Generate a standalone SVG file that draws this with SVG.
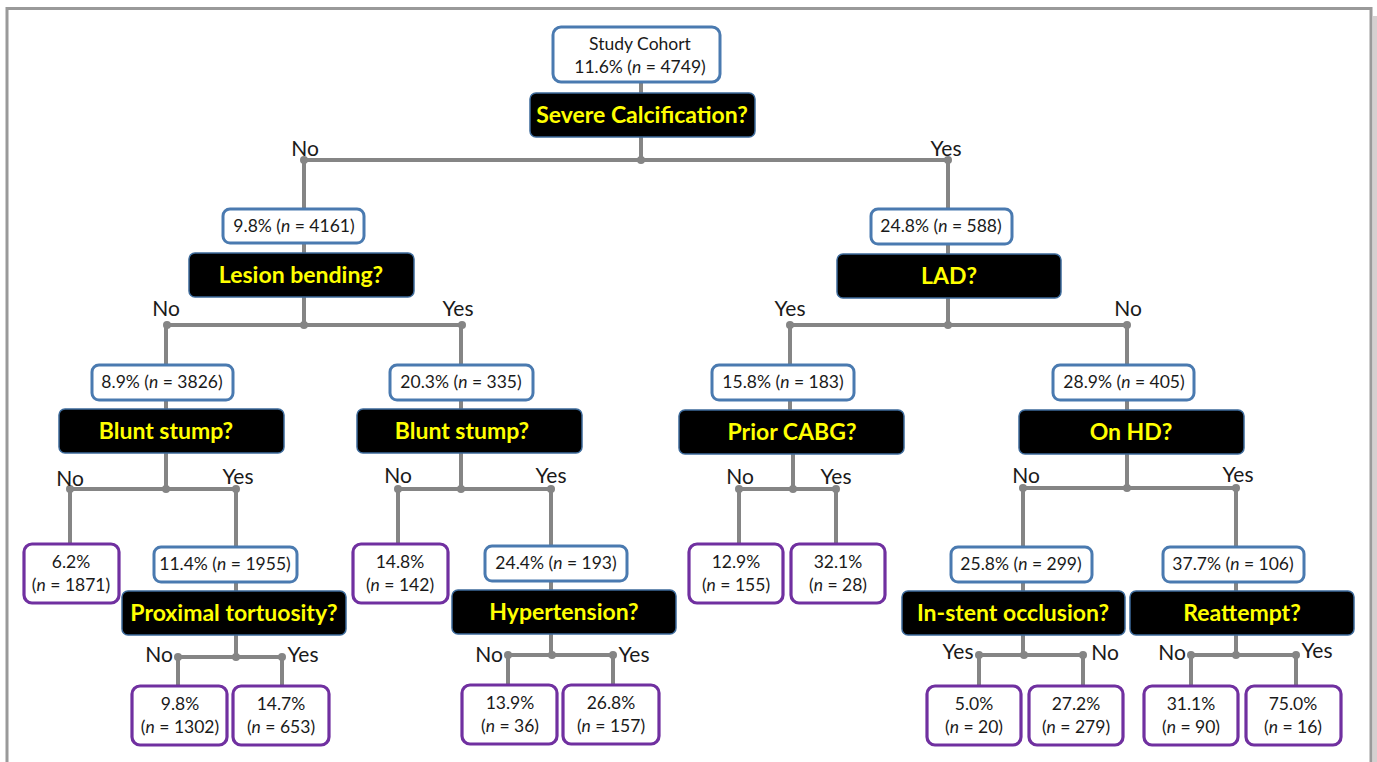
<svg xmlns="http://www.w3.org/2000/svg" width="1377" height="762" viewBox="0 0 1377 762">
<style>
.c{stroke:#858585;stroke-width:4;fill:none}
.d{fill:#858585}
.s{fill:#fff;stroke:#4a7ab0;stroke-width:3}
.q{fill:#000;stroke:#3d6a9a;stroke-width:1.5}
.l{fill:#fff;stroke:#7030a0;stroke-width:3.2}
text{font-family:Lato,"Open Sans","Liberation Sans",sans-serif;text-anchor:middle;fill:#1a1a1a}
.t{font-size:17.5px}
.b{font-size:23px;font-weight:bold;fill:#ffff00}
.y{font-size:21px}
</style>
<rect x="0" y="0" width="1377" height="762" fill="#fff"/>
<rect x="1373" y="16" width="4" height="746" fill="#d5d0d0"/>
<rect x="7" y="8.5" width="1364" height="800" fill="#fff" stroke="#9a9a9a" stroke-width="3"/>
<g id="connectors">
<path class="c" d="M641 82V160M304 160H948M304 160V325M948 160V325M167 325H462M790 325H1127M166 325V489M461 325V489M790 325V410M793 454V489M1127 325V488M70 489H236M398 489H551M739 489H836M1023 488H1236M70 489V544M236 489V657M398 489V544M551 489V655M739 489V544M836 489V544M1023 488V655M1236 488V655M178 657H282M508 655H613M979 655H1083M1191 655H1296M178 657V686M282 657V686M508 655V685M613 655V685M979 655V686M1083 655V686M1191 655V686M1296 655V686"/>
<g class="d">
<circle cx="641" cy="160" r="4"/><circle cx="304" cy="160" r="4"/><circle cx="948" cy="160" r="4"/>
<circle cx="167" cy="325" r="4"/><circle cx="304" cy="325" r="4"/><circle cx="462" cy="325" r="4"/>
<circle cx="790" cy="325" r="4"/><circle cx="948" cy="325" r="4"/><circle cx="1127" cy="325" r="4"/>
<circle cx="70" cy="489" r="4"/><circle cx="166" cy="489" r="4"/><circle cx="236" cy="489" r="4"/>
<circle cx="398" cy="489" r="4"/><circle cx="461" cy="489" r="4"/><circle cx="551" cy="489" r="4"/>
<circle cx="739" cy="489" r="4"/><circle cx="793" cy="489" r="4"/><circle cx="836" cy="489" r="4"/>
<circle cx="1023" cy="488" r="4"/><circle cx="1127" cy="488" r="4"/><circle cx="1236" cy="488" r="4"/>
<circle cx="178" cy="657" r="4"/><circle cx="236" cy="657" r="4"/><circle cx="282" cy="657" r="4"/>
<circle cx="508" cy="655" r="4"/><circle cx="552" cy="655" r="4"/><circle cx="613" cy="655" r="4"/>
<circle cx="979" cy="655" r="4"/><circle cx="1024" cy="655" r="4"/><circle cx="1083" cy="655" r="4"/>
<circle cx="1191" cy="655" r="4"/><circle cx="1236" cy="655" r="4"/><circle cx="1296" cy="655" r="4"/>
</g>
<g class="y">
<text x="305" y="156">No</text><text x="946" y="156">Yes</text>
<text x="166" y="316">No</text><text x="458" y="316">Yes</text>
<text x="790" y="316">Yes</text><text x="1128" y="316">No</text>
<text x="70" y="486">No</text><text x="238" y="484">Yes</text>
<text x="398" y="483">No</text><text x="551" y="483">Yes</text>
<text x="740" y="484">No</text><text x="836" y="484">Yes</text>
<text x="1026" y="483">No</text><text x="1238" y="482">Yes</text>
<text x="159" y="662">No</text><text x="303" y="662">Yes</text>
<text x="489" y="662">No</text><text x="634" y="662">Yes</text>
<text x="958" y="659">Yes</text><text x="1105" y="660">No</text>
<text x="1172" y="660">No</text><text x="1317" y="658">Yes</text>
</g>
</g>
<g id="root"><rect class="s" x="553" y="27" width="167" height="55" rx="8"/><text class="t" x="640" y="50">Study Cohort</text><text class="t" x="640" y="73">11.6% (<tspan font-style="italic">n</tspan> = 4749)</text></g>
<g id="q-calcification"><rect class="q" x="530" y="93" width="225" height="44" rx="6"/><text class="b" x="642" y="123">Severe Calcification?</text></g>
<g id="s-4161"><rect class="s" x="223" y="209" width="141" height="34" rx="7"/><text class="t" x="294" y="232">9.8% (<tspan font-style="italic">n</tspan> = 4161)</text></g>
<g id="q-bending"><rect class="q" x="189" y="253" width="225" height="44" rx="6"/><text class="b" x="301" y="283">Lesion bending?</text></g>
<g id="s-588"><rect class="s" x="871" y="209" width="141" height="35" rx="7"/><text class="t" x="941" y="232">24.8% (<tspan font-style="italic">n</tspan> = 588)</text></g>
<g id="q-lad"><rect class="q" x="837" y="254" width="224" height="44" rx="6"/><text class="b" x="949" y="284">LAD?</text></g>
<g id="s-3826"><rect class="s" x="92" y="365" width="141" height="35" rx="7"/><text class="t" x="162" y="388">8.9% (<tspan font-style="italic">n</tspan> = 3826)</text></g>
<g id="q-blunt1"><rect class="q" x="59" y="409" width="225" height="44" rx="6"/><text class="b" x="166" y="439">Blunt stump?</text></g>
<g id="s-335"><rect class="s" x="390" y="365" width="143" height="35" rx="7"/><text class="t" x="461" y="388">20.3% (<tspan font-style="italic">n</tspan> = 335)</text></g>
<g id="q-blunt2"><rect class="q" x="357" y="409" width="225" height="44" rx="6"/><text class="b" x="462" y="439">Blunt stump?</text></g>
<g id="s-183"><rect class="s" x="712" y="365" width="142" height="35" rx="7"/><text class="t" x="783" y="388">15.8% (<tspan font-style="italic">n</tspan> = 183)</text></g>
<g id="q-cabg"><rect class="q" x="679" y="410" width="225" height="44" rx="6"/><text class="b" x="792" y="440">Prior CABG?</text></g>
<g id="s-405"><rect class="s" x="1053" y="365" width="141" height="35" rx="7"/><text class="t" x="1124" y="388">28.9% (<tspan font-style="italic">n</tspan> = 405)</text></g>
<g id="q-hd"><rect class="q" x="1019" y="410" width="225" height="44" rx="6"/><text class="b" x="1131" y="440">On HD?</text></g>
<g id="leaf-1871"><rect class="l" x="24" y="544" width="95" height="59" rx="8"/><text class="t" x="71" y="568">6.2%</text><text class="t" x="71" y="591">(<tspan font-style="italic">n</tspan> = 1871)</text></g>
<g id="s-1955"><rect class="s" x="154" y="547" width="143" height="35" rx="7"/><text class="t" x="225" y="570">11.4% (<tspan font-style="italic">n</tspan> = 1955)</text></g>
<g id="q-proximal"><rect class="q" x="122" y="591" width="224" height="44" rx="6"/><text class="b" x="234" y="621">Proximal tortuosity?</text></g>
<g id="leaf-142"><rect class="l" x="353" y="544" width="95" height="59" rx="8"/><text class="t" x="400" y="568">14.8%</text><text class="t" x="400" y="591">(<tspan font-style="italic">n</tspan> = 142)</text></g>
<g id="s-193"><rect class="s" x="485" y="546" width="142" height="35" rx="7"/><text class="t" x="556" y="569">24.4% (<tspan font-style="italic">n</tspan> = 193)</text></g>
<g id="q-hypertension"><rect class="q" x="452" y="590" width="224" height="44" rx="6"/><text class="b" x="564" y="620">Hypertension?</text></g>
<g id="leaf-155"><rect class="l" x="689" y="544" width="94" height="59" rx="8"/><text class="t" x="736" y="568">12.9%</text><text class="t" x="736" y="591">(<tspan font-style="italic">n</tspan> = 155)</text></g>
<g id="leaf-28"><rect class="l" x="791" y="544" width="94" height="59" rx="8"/><text class="t" x="838" y="568">32.1%</text><text class="t" x="838" y="591">(<tspan font-style="italic">n</tspan> = 28)</text></g>
<g id="s-299"><rect class="s" x="951" y="547" width="141" height="35" rx="7"/><text class="t" x="1021" y="570">25.8% (<tspan font-style="italic">n</tspan> = 299)</text></g>
<g id="s-106"><rect class="s" x="1163" y="547" width="141" height="35" rx="7"/><text class="t" x="1233" y="570">37.7% (<tspan font-style="italic">n</tspan> = 106)</text></g>
<g id="q-instent"><rect class="q" x="902" y="591" width="223" height="44" rx="6"/><text class="b" x="1013" y="621">In-stent occlusion?</text></g>
<g id="q-reattempt"><rect class="q" x="1130" y="591" width="224" height="44" rx="6"/><text class="b" x="1242" y="621">Reattempt?</text></g>
<g id="leaf-1302"><rect class="l" x="132" y="686" width="95" height="59" rx="8"/><text class="t" x="180" y="710">9.8%</text><text class="t" x="180" y="733">(<tspan font-style="italic">n</tspan> = 1302)</text></g>
<g id="leaf-653"><rect class="l" x="233" y="686" width="96" height="59" rx="8"/><text class="t" x="281" y="710">14.7%</text><text class="t" x="281" y="733">(<tspan font-style="italic">n</tspan> = 653)</text></g>
<g id="leaf-36"><rect class="l" x="462" y="685" width="95" height="59" rx="8"/><text class="t" x="510" y="709">13.9%</text><text class="t" x="510" y="732">(<tspan font-style="italic">n</tspan> = 36)</text></g>
<g id="leaf-157"><rect class="l" x="563" y="685" width="96" height="59" rx="8"/><text class="t" x="611" y="709">26.8%</text><text class="t" x="611" y="732">(<tspan font-style="italic">n</tspan> = 157)</text></g>
<g id="leaf-20"><rect class="l" x="927" y="686" width="94" height="59" rx="8"/><text class="t" x="974" y="710">5.0%</text><text class="t" x="974" y="733">(<tspan font-style="italic">n</tspan> = 20)</text></g>
<g id="leaf-279"><rect class="l" x="1029" y="686" width="94" height="59" rx="8"/><text class="t" x="1076" y="710">27.2%</text><text class="t" x="1076" y="733">(<tspan font-style="italic">n</tspan> = 279)</text></g>
<g id="leaf-90"><rect class="l" x="1144" y="686" width="94" height="59" rx="8"/><text class="t" x="1191" y="710">31.1%</text><text class="t" x="1191" y="733">(<tspan font-style="italic">n</tspan> = 90)</text></g>
<g id="leaf-16"><rect class="l" x="1246" y="686" width="95" height="59" rx="8"/><text class="t" x="1293" y="710">75.0%</text><text class="t" x="1293" y="733">(<tspan font-style="italic">n</tspan> = 16)</text></g>
</svg>
